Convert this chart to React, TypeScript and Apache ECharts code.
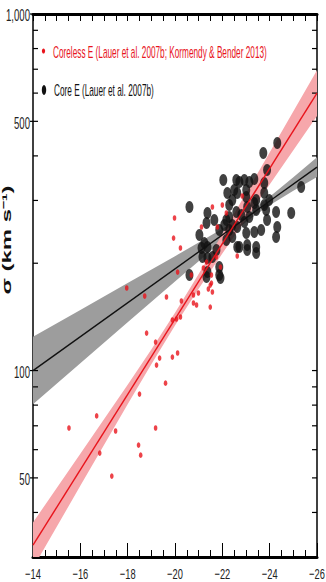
import React, { useEffect, useRef } from "react";
import * as echarts from "echarts";

// Axis tick labels / ticks
const xTickLabels = [-14, -16, -18, -20, -22, -24, -26];
const yTickLabels = [50, 100, 500, 1000];
const yTicks = [40, 50, 60, 70, 80, 90, 100, 200, 300, 400, 500, 600, 700, 800, 900, 1000];

// Coreless E (M_V, sigma)
const corelessPoints: number[][] = [
  [-15.52, 69.0], [-16.69, 74.6], [-16.82, 58.7], [-17.33, 50.6], [-17.49, 67.7],
  [-18.46, 61.8], [-18.55, 57.9], [-19.18, 69.0], [-18.5, 85.9], [-17.96, 170.4],
  [-18.72, 161.8], [-18.8, 127.4], [-19.18, 120.2], [-19.35, 108.4], [-19.22, 103.6],
  [-19.6, 92.2], [-19.64, 160.8], [-19.89, 109.1], [-20.11, 112.0], [-19.89, 138.6],
  [-20.06, 139.5], [-20.23, 141.3], [-20.27, 156.7], [-20.78, 162.9], [-20.99, 165.0],
  [-20.78, 154.7], [-20.91, 152.7], [-21.49, 150.7], [-21.58, 166.1], [-21.49, 173.7],
  [-20.11, 188.9], [-20.69, 185.3], [-19.98, 267.8], [-19.94, 235.3], [-20.23, 220.6],
  [-21.58, 287.5], [-22.0, 291.2], [-21.12, 252.7], [-21.79, 252.7], [-22.17, 276.6],
  [-22.84, 308.7], [-22.63, 209.5], [-21.54, 175.9], [-21.54, 185.3], [-21.41, 169.3],
  [-21.92, 195.1], [-21.75, 208.2], [-21.33, 201.5], [-21.2, 193.9],
];

// Core E (M_V, sigma)
const corePoints: number[][] = [
  [-24.32, 434.6], [-23.73, 407.5], [-23.89, 365.1], [-22.04, 342.3], [-22.59, 342.3],
  [-22.72, 337.9], [-22.93, 342.3], [-23.14, 337.9], [-23.35, 344.5], [-23.77, 335.7],
  [-25.33, 327.1], [-20.61, 287.5], [-24.91, 276.6], [-22.5, 320.9], [-23.01, 320.9],
  [-22.42, 300.8], [-23.43, 300.8], [-23.77, 314.7], [-23.98, 300.8], [-24.27, 278.4],
  [-24.32, 252.7], [-24.27, 236.8], [-23.85, 282.0], [-23.89, 264.4], [-21.33, 259.3],
  [-21.66, 264.4], [-21.87, 247.8], [-22.17, 264.4], [-22.29, 247.8], [-22.42, 236.8],
  [-22.63, 252.7], [-23.01, 243.0], [-23.05, 224.9], [-23.43, 222.0], [-23.43, 213.6],
  [-23.35, 244.6], [-23.64, 247.8], [-21.03, 239.9], [-21.37, 222.0], [-21.16, 208.2],
  [-21.37, 206.8], [-21.58, 208.2], [-21.87, 195.1], [-22.72, 222.0], [-22.17, 232.3],
  [-20.61, 185.3], [-21.33, 182.9], [-21.87, 185.3], [-22.21, 314.7], [-22.63, 314.7],
  [-23.01, 306.7], [-23.35, 295.0], [-22.29, 291.2], [-22.59, 278.4], [-23.05, 287.5],
  [-23.14, 269.6], [-23.43, 282.0], [-23.77, 291.2], [-23.05, 217.8], [-22.63, 222.0],
  [-22.08, 256.0], [-21.37, 276.6], [-21.24, 227.8], [-21.75, 217.8], [-21.92, 181.7],
  [-21.37, 188.9], [-21.12, 220.6], [-22.29, 269.6], [-22.42, 256.0], [-22.93, 261.0],
  [-22.8, 273.1],
];

// Fits
const coreFit: number[][] = [[-14, 100], [-26, 372]];
const corelessFit: number[][] = [[-14, 32.4], [-26, 600]];

// Confidence bands
const coreBandMag = [-14, -16, -18, -20, -21, -22, -23, -24, -25, -26];
const coreBandUpper = [124.4, 147.9, 175.9, 209.3, 228.5, 249.8, 274.5, 307.0, 348.2, 396.7];
const coreBandLower = [80.4, 104.8, 136.6, 177.8, 202.7, 230.8, 261.2, 290.9, 319.2, 348.9];

const corelessBandMag = [-14, -16, -18, -19, -20, -21, -22, -24, -26];
const corelessBandUpper = [37.5, 58.4, 91.3, 114.6, 145.3, 186.5, 241.4, 408.7, 695.3];
const corelessBandLower = [27.96, 47.5, 80.5, 104.2, 133.7, 169.5, 212.9, 332.5, 517.8];

const RED = "#e8141c";
const FONT = '"Liberation Sans", Arial, sans-serif';

function bandSeries(mags: number[], upper: number[], lower: number[], color: string) {
  return {
    type: "custom",
    clip: true,
    silent: true,
    data: [[mags[Math.floor(mags.length / 2)], upper[Math.floor(mags.length / 2)]]],
    renderItem: (_params: any, api: any) => {
      const pts: number[][] = [];
      for (let i = 0; i < mags.length; i++) pts.push(api.coord([mags[i], upper[i]]));
      for (let i = mags.length - 1; i >= 0; i--) pts.push(api.coord([mags[i], lower[i]]));
      return { type: "polygon", shape: { points: pts }, style: { fill: color } };
    },
  };
}

export default function App() {
  const ref = useRef<HTMLDivElement>(null);
  useEffect(() => {
    if (!ref.current) return;
    const chart = echarts.init(ref.current, null, { renderer: "svg" });
    const xAxisBase = {
      type: "value",
      min: -26,
      max: -14,
      interval: 2,
      inverse: true,
      axisLabel: { show: false },
      splitLine: { show: false },
    };
    const yAxisBase = {
      type: "log",
      logBase: 10,
      min: 30,
      max: 1000,
      axisTick: { show: false },
      minorTick: { show: false },
      axisLabel: { show: false },
      splitLine: { show: false },
    };
    chart.setOption({
      animation: false,
      backgroundColor: "#ffffff",
      grid: { left: 33, right: 9, top: 14, bottom: 25, containLabel: false },
      xAxis: [
        {
          ...xAxisBase,
          position: "bottom",
          axisLine: { show: true, onZero: false, lineStyle: { color: "#000", width: 3 } },
          axisTick: { show: true, inside: true, length: 14, lineStyle: { color: "#000", width: 1 } },
          minorTick: { show: true, splitNumber: 4, length: 7, lineStyle: { color: "#000", width: 1 } },
        },
        {
          ...xAxisBase,
          position: "top",
          axisLine: { show: true, onZero: false, lineStyle: { color: "#000", width: 3 } },
          axisTick: { show: true, inside: true, length: 7, lineStyle: { color: "#000", width: 1 } },
          minorTick: { show: true, splitNumber: 4, length: 7, lineStyle: { color: "#000", width: 1 } },
        },
      ],
      yAxis: [
        {
          ...yAxisBase,
          position: "left",
          axisLine: { show: true, onZero: false, lineStyle: { color: "#000", width: 1.5 } },
        },
        {
          ...yAxisBase,
          position: "right",
          axisLine: { show: true, onZero: false, lineStyle: { color: "#000", width: 1.5 } },
        },
      ],
      series: [
        bandSeries(coreBandMag, coreBandUpper, coreBandLower, "#9d9d9d"),
        bandSeries(corelessBandMag, corelessBandUpper, corelessBandLower, "#f6a7ab"),
        {
          type: "scatter",
          name: "Core E",
          data: corePoints,
          symbol: "circle",
          symbolSize: [8, 12],
          itemStyle: { color: "#111111" },
          silent: true,
        },
        {
          type: "scatter",
          name: "Coreless E",
          data: corelessPoints,
          symbol: "circle",
          symbolSize: [3.6, 5.6],
          itemStyle: { color: RED },
          silent: true,
        },
        {
          type: "line",
          data: coreFit,
          symbol: "none",
          lineStyle: { color: "#111", width: 1.4 },
          silent: true,
        },
        {
          type: "line",
          data: corelessFit,
          symbol: "none",
          clip: true,
          lineStyle: { color: RED, width: 1.4 },
          silent: true,
        },
        {
          type: "custom",
          clip: false,
          silent: true,
          data: yTicks.map((v) => [-20, v]),
          renderItem: (params: any, api: any) => {
            const v = api.value(1);
            const p = api.coord([-20, v]);
            const cs = params.coordSys;
            const major = yTickLabels.indexOf(v) >= 0;
            return {
              type: "group",
              children: [
                {
                  type: "line",
                  shape: { x1: cs.x - (major ? 3 : 0), y1: p[1], x2: cs.x + 5, y2: p[1] },
                  style: { stroke: "#000", lineWidth: 1.2 },
                },
                {
                  type: "line",
                  shape: { x1: cs.x + cs.width - 5, y1: p[1], x2: cs.x + cs.width, y2: p[1] },
                  style: { stroke: "#000", lineWidth: 1.2 },
                },
              ],
            };
          },
        },
        {
          type: "custom",
          clip: false,
          silent: true,
          data: yTickLabels.map((v) => [-14, v]),
          renderItem: (_params: any, api: any) => {
            const v = api.value(1);
            const p = api.coord([-14, v]);
            return {
              type: "text",
              x: p[0] - 3,
              y: p[1] + 2,
              scaleX: 0.6,
              style: {
                text: v >= 1000 ? "1,000" : String(v),
                align: "right",
                textAlign: "right",
                verticalAlign: "middle",
                textVerticalAlign: "middle",
                fill: "#222",
                font: "16px " + FONT,
              },
            };
          },
        },
        {
          type: "custom",
          clip: false,
          silent: true,
          data: xTickLabels.map((v) => [v, 30]),
          renderItem: (_params: any, api: any) => {
            const v = api.value(0);
            const p = api.coord([v, 30]);
            return {
              type: "text",
              x: p[0],
              y: p[1] + 10,
              scaleX: 0.62,
              style: {
                text: "\u2212" + String(Math.abs(v)),
                align: "center",
                textAlign: "center",
                verticalAlign: "top",
                textVerticalAlign: "top",
                fill: "#222",
                font: "15px " + FONT,
              },
            };
          },
        },
      ],
      graphic: [
        {
          type: "text",
          x: 7,
          y: 240,
          rotation: Math.PI / 2,
          scaleY: 0.52,
          style: {
            text: "\u03c3 (km s\u207b\u00b9)",
            font: "bold 24px " + FONT,
            align: "center",
            textAlign: "center",
            verticalAlign: "middle",
            textVerticalAlign: "middle",
            fill: "#111",
          },
        },
        { type: "ellipse", shape: { cx: 43.5, cy: 51, rx: 1.6, ry: 2.6 }, style: { fill: RED } },
        {
          type: "text",
          x: 53,
          y: 52,
          scaleX: 0.515,
          style: {
            text: "Coreless E (Lauer et al. 2007b; Kormendy & Bender 2013)",
            font: "16px " + FONT,
            fill: RED,
            verticalAlign: "middle",
            textVerticalAlign: "middle",
          },
        },
        { type: "ellipse", shape: { cx: 44, cy: 90, rx: 2.2, ry: 5 }, style: { fill: "#111" } },
        {
          type: "text",
          x: 54,
          y: 90,
          scaleX: 0.515,
          style: {
            text: "Core E (Lauer et al. 2007b)",
            font: "16px " + FONT,
            fill: "#111",
            verticalAlign: "middle",
            textVerticalAlign: "middle",
          },
        },
      ],
    });
    return () => chart.dispose();
  }, []);
  return (
    <div
      ref={ref}
      style={{ position: "absolute", left: 0, top: 0, width: 326, height: 582 }}
    />
  );
}
